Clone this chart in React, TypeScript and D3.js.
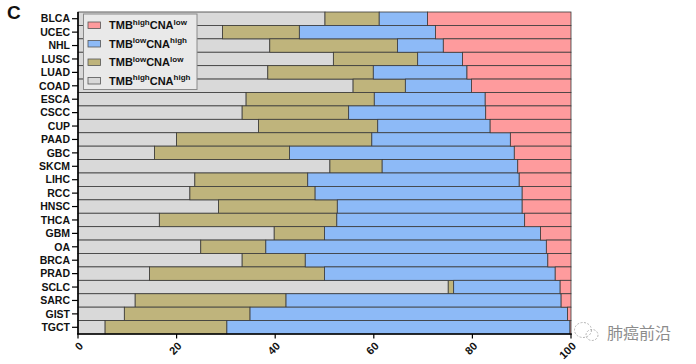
import React from 'react';
import * as d3 from 'd3';

// cancer types, top to bottom
const categories = [
  'BLCA', 'UCEC', 'NHL', 'LUSC', 'LUAD', 'COAD', 'ESCA', 'CSCC', 'CUP', 'PAAD', 'GBC', 'SKCM',
  'LIHC', 'RCC', 'HNSC', 'THCA', 'GBM', 'OA', 'BRCA', 'PRAD', 'SCLC', 'SARC', 'GIST', 'TGCT',
];

// percentages per group (left to right in each bar)
const highHigh = [50.1, 29.3, 38.9, 51.8, 38.5, 55.8, 34.1, 33.3, 36.6, 20.0, 15.5, 51.1, 23.7, 22.7, 28.5, 16.5, 39.8, 24.9, 33.3, 14.5, 75.1, 11.6, 9.4, 5.5];
const lowLow = [11.0, 15.6, 25.9, 17.1, 21.4, 10.6, 26.0, 21.6, 24.2, 39.6, 27.4, 10.6, 22.9, 25.4, 24.1, 36.0, 10.2, 13.2, 12.8, 35.5, 1.1, 30.6, 25.5, 24.7];
const lowHigh = [9.8, 27.6, 9.3, 9.1, 19.0, 13.4, 22.5, 27.8, 22.8, 28.1, 45.6, 27.5, 42.9, 42.0, 37.5, 38.1, 43.8, 56.9, 49.2, 46.8, 21.6, 55.8, 64.4, 69.6];
const highLow = [29.1, 27.5, 25.9, 22.0, 21.1, 20.2, 17.4, 17.3, 16.4, 12.3, 11.5, 10.8, 10.5, 9.9, 9.9, 9.4, 6.2, 5.0, 4.7, 3.2, 2.2, 2.0, 0.7, 0.2];

const xTicks = [0, 20, 40, 60, 80, 100];

const keys = ['hh', 'll', 'lh', 'hl'];
const colors: Record<string, string> = {
  hh: '#d9d9d9',
  ll: '#bfb47c',
  lh: '#8dbaf7',
  hl: '#fe9b9d',
};
// legend order + labels [tmb, cna]
const legendItems: [string, string, string][] = [
  ['hl', 'high', 'low'],
  ['lh', 'low', 'high'],
  ['ll', 'low', 'low'],
  ['hh', 'high', 'high'],
];

const FONT = 'Liberation Sans, Arial, sans-serif';

export default function App() {
  const width = 696;
  const height = 364;

  const x = d3.scaleLinear().domain([0, 100]).range([78, 571]);
  const y = d3.scaleBand<string>().domain(categories).range([12, 334]).padding(0);

  const table = categories.map((c, i) => ({
    cat: c,
    hh: highHigh[i],
    ll: lowLow[i],
    lh: lowHigh[i],
    hl: highLow[i],
  }));
  const series = d3.stack<any>().keys(keys)(table);

  return (
    <svg
      width={width}
      height={height}
      style={{ position: 'absolute', left: 0, top: 0, background: '#fff' }}
      fontFamily={FONT}
    >
      {/* panel letter */}
      <text x={7} y={19} fontSize={19} fontWeight="bold" fill="#111">C</text>

      {/* bars */}
      {series.map(s => (
        <g key={s.key}>
          {s.map((d, i) => (
            <rect
              key={i}
              x={x(d[0])}
              y={y(categories[i])}
              width={Math.max(0, x(d[1]) - x(d[0]))}
              height={y.bandwidth()}
              fill={colors[s.key]}
              stroke="#3a3a3a"
              strokeWidth={0.8}
            />
          ))}
        </g>
      ))}

      {/* y axis */}
      <line x1={78} x2={78} y1={12} y2={334} stroke="#000" strokeWidth={1.6} />
      {categories.map(c => {
        const cy = (y(c) ?? 0) + y.bandwidth() / 2;
        return (
          <g key={c}>
            <line x1={72} x2={78} y1={cy} y2={cy} stroke="#000" strokeWidth={1.2} />
            <text x={70} y={cy} dy="0.36em" textAnchor="end" fontSize={10.5} fontWeight="bold" fill="#111">
              {c}
            </text>
          </g>
        );
      })}

      {/* x axis */}
      <line x1={77} x2={571.8} y1={334} y2={334} stroke="#000" strokeWidth={1.6} />
      {xTicks.map(t => (
        <g key={t}>
          <line x1={x(t)} x2={x(t)} y1={334} y2={338.5} stroke="#000" strokeWidth={1.2} />
          <text
            transform={`translate(${x(t) + 3},${344}) rotate(-45)`}
            dy="0.35em"
            textAnchor="end"
            fontSize={11}
            fontWeight="bold"
            fill="#111"
          >
            {t}
          </text>
        </g>
      ))}

      {/* legend */}
      <rect x={83.5} y={14} width={113.5} height={75.5} fill="#e9e9e9" stroke="#8a8a8a" strokeWidth={1} />
      {legendItems.map(([k, tmb, cna], i) => {
        const ly = 25 + i * 18.5;
        return (
          <g key={k}>
            <rect x={88} y={ly - 3} width={12.5} height={6.5} fill={colors[k]} stroke="#555" strokeWidth={0.8} />
            <text x={109} y={ly} dy="0.38em" fontSize={11} fontWeight="bold" fill="#111">
              TMB
              <tspan fontSize={8} dy={-4.5}>{tmb}</tspan>
              <tspan fontSize={11} dy={4.5}>CNA</tspan>
              <tspan fontSize={8} dy={-4.5}>{cna}</tspan>
            </text>
          </g>
        );
      })}

      {/* watermark */}
      <g fill="none" stroke="#b5b5b5" strokeWidth={1} strokeDasharray="2 1.5">
        <ellipse cx={583} cy={330} rx={8.5} ry={7.5} />
        <ellipse cx={592} cy={335} rx={6} ry={5.5} />
      </g>
      <text
        x={607}
        y={333}
        dy="0.36em"
        fontSize={16}
        fill="#8c8c8c"
        fontFamily="Noto Sans CJK SC, sans-serif"
      >
        肺癌前沿
      </text>
    </svg>
  );
}
